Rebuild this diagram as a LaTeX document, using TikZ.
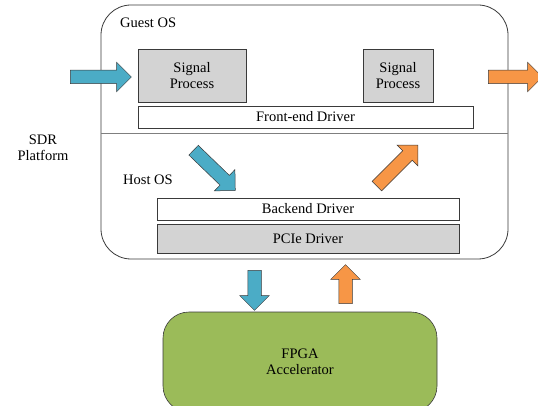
\documentclass[tikz,border=0pt]{standalone}
\usepackage{fontspec}
\setmainfont{Liberation Serif}
\usepackage{xcolor}
\usepackage{tikz}
\usetikzlibrary{positioning,shapes.arrows}
\definecolor{boxgray}{HTML}{D3D3D3}
\definecolor{lineframe}{HTML}{3A3A3A}
\definecolor{divider}{HTML}{7F7F7F}
\definecolor{datain}{HTML}{4BACC6}
\definecolor{dataout}{HTML}{F79646}
\definecolor{fpgagreen}{HTML}{9BBB59}
\newcommand{\diagfont}{\fontsize{14.5}{16}\selectfont}
\tikzset{
    osframe/.style={
        draw=lineframe, line width=0.8pt, rounded corners=30pt
    },
    procbox/.style={
        draw=lineframe, fill=boxgray, line width=0.6pt,
        minimum width=108pt, minimum height=53pt,
        font=\diagfont, align=center
    },
    drvbox/.style={
        draw=lineframe, fill=white, line width=0.6pt,
        minimum height=22pt,
        font=\diagfont, align=center
    },
    pciebox/.style={
        draw=lineframe, fill=boxgray, line width=0.6pt,
        minimum height=29pt,
        font=\diagfont, align=center
    },
    fpgabox/.style={
        draw=lineframe, fill=fpgagreen, line width=0.6pt, rounded corners=26pt,
        minimum width=274pt, minimum height=100pt,
        font=\diagfont, align=center
    },
    fatarrow/.style={
        single arrow, draw=lineframe, line width=0.5pt,
        inner sep=0pt, inner ysep=6.5pt,
        single arrow head extend=8pt, single arrow tip angle=90
    },
    inarrow/.style={fatarrow, fill=datain},
    outarrow/.style={fatarrow, fill=dataout},
    oslabel/.style={font=\diagfont, anchor=west, inner sep=0pt},
}

\begin{document}
\begin{tikzpicture}[x=1pt, y=-1pt]
    \useasboundingbox (0,0) rectangle (538,406);
    % virtualised platform
    \draw[osframe] (101,5) rectangle (508,259);
    \coordinate (divl) at (101,133);
    \coordinate (divr) at (508,133);
    \draw[divider, line width=0.8pt] (divl) -- (divr);
    \node[oslabel] (guest) at (120,23) {Guest OS};
    \node[oslabel] (host) at (123,180) {Host OS};
    \node[font=\diagfont, align=center] (sdr) at (43,148) {SDR\\Platform};
    \node[procbox] (sigin) at (192,75.5) {Signal\\Process};
    \node[procbox, minimum width=70pt] (sigout) at (398,75.5) {Signal\\Process};
    \node[drvbox, minimum width=335pt] (front) at (305.5,117) {Front-end Driver};
    \node[drvbox, minimum width=302pt] (back) at (308,209) {Backend Driver};
    \node[pciebox, minimum width=302pt] (pcie) at (308,238.5) {PCIe Driver};
    % accelerator
    \node[fpgabox] (fpga) at (300,362) {FPGA\\Accelerator};
    % data flow
    \node[inarrow, minimum height=61pt] (rxin) at (97.5,77) {};
    \node[outarrow, minimum height=54pt] (txout) at (512,77) {};
    \node[inarrow, minimum height=58pt, rotate=-44] (todrv) at (212,168) {};
    \node[outarrow, minimum height=58pt, rotate=45] (fromdrv) at (395,168) {};
    \node[inarrow, minimum height=40pt, rotate=-90] (tofpga) at (254.5,287) {};
    \node[outarrow, minimum height=39pt, rotate=90] (fromfpga) at (345.5,287.5) {};
\end{tikzpicture}
\end{document}
